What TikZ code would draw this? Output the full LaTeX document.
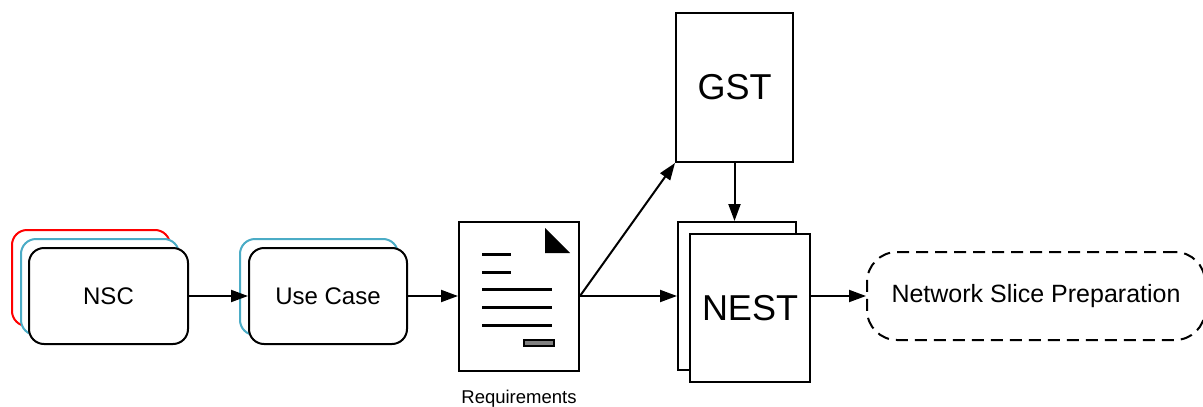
\documentclass[tikz,border=0pt]{standalone}
\usepackage{fontspec}
\setmainfont{Liberation Sans}
\usetikzlibrary{arrows.meta}
\definecolor{accblue}{RGB}{75,172,198}
\tikzset{
  rbox/.style={draw=black, line width=2pt, rounded corners=15pt, fill=white, inner sep=0pt, minimum width=158pt, minimum height=96pt, font=\fontsize{24}{28}\selectfont},
  pagebox/.style={draw=black, line width=2pt, fill=white, inner sep=0pt},
  conn/.style={line width=2pt, -{Triangle[length=17pt,width=12pt]}},
  docline/.style={line width=3pt},
}
\begin{document}
\begin{tikzpicture}[x=1pt,y=-1pt]
\useasboundingbox (0,0) rectangle (1203,407);
% NSC stack
\node[rbox, draw=red] (nscR) at (91,278) {};
\node[rbox, draw=accblue] (nscB) at (100,287) {};
\node[rbox, minimum width=159pt] (nsc) at (108.5,296) {NSC};
% Use Case stack
\node[rbox, draw=accblue] (ucB) at (319,287) {};
\node[rbox] (uc) at (328,296) {Use Case};
% Requirements document
\node[pagebox, minimum width=120pt, minimum height=149pt,
      label={[font=\fontsize{18.5}{22}\selectfont, yshift=-15pt]below:Requirements}] (req) at (519,296) {};
\fill (545,228) -- (570,253) -- (545,253) -- cycle;
\draw[docline] (482,254) -- (511,254);
\draw[docline] (482,272) -- (511,272);
\draw[docline] (482,289.5) -- (552,289.5);
\draw[docline] (482,307.5) -- (552,307.5);
\draw[docline] (482,325) -- (552,325);
\draw[line width=2pt, fill=gray] (523.5,339.5) rectangle (553.5,346);
% GST
\node[pagebox, minimum width=117pt, minimum height=149pt, font=\fontsize{36}{40}\selectfont] (gst) at (734.5,87.5) {GST};
% NEST stack
\node[pagebox, minimum width=118pt, minimum height=148pt] (nestB) at (737,296) {};
\node[pagebox, minimum width=120pt, minimum height=148pt, font=\fontsize{36}{40}\selectfont] (nest) at (750,308) {NEST};
% Network Slice Preparation
\node[draw=black, line width=2pt, dash pattern=on 12pt off 7pt, rounded corners=30pt,
      minimum width=338pt, minimum height=88pt, inner sep=0pt,
      font=\fontsize{25}{29}\selectfont] (nsp) at (1036,296) {Network Slice Preparation};
% connectors
\draw[conn] (nsc.east) -- (uc.west);
\draw[conn] (uc.east) -- (req.west |- uc.east);
\draw[conn] (req.east) -- (gst.south west);
\draw[conn] (req.east) -- (nestB.west |- req.east);
\draw[conn] (gst.south) -- (gst.south |- nestB.north);
\draw[conn] (nest.east |- nsp.west) -- (nsp.west);
\end{tikzpicture}
\end{document}
